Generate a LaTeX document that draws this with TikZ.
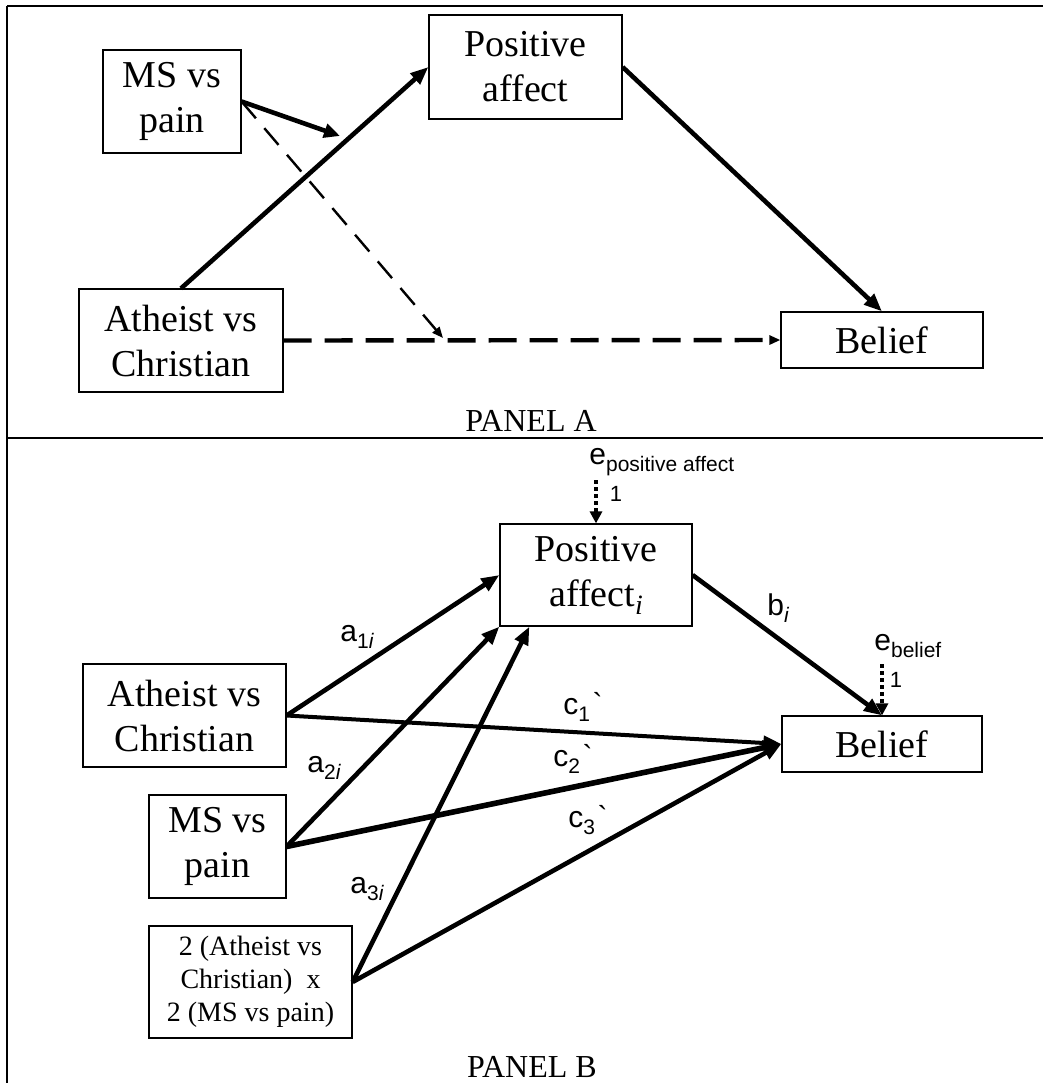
\documentclass[tikz,border=0pt]{standalone}
\usepackage{fontspec}
\setmainfont{Liberation Serif}
\newfontfamily\lblfont{Liberation Sans}
\usetikzlibrary{arrows.meta, positioning}

\newcommand\lsub[1]{\raisebox{-0.4ex}{\fontsize{10.5}{11}\selectfont #1}}
\newcommand\tick{\kern1.2pt\char"60}

\begin{document}
\begin{tikzpicture}[x=0.5pt, y=-0.5pt,
every node/.style={font=\fontsize{19}{22.5}\selectfont, align=center},
box/.style={rectangle, draw, line width=0.6pt, inner sep=0pt},
small/.style={font=\fontsize{14}{16.5}\selectfont},
coef/.style={font=\lblfont\fontsize{15}{17}\selectfont, inner sep=0pt},
one/.style={font=\lblfont\fontsize{11}{13}\selectfont, inner sep=0pt},
title/.style={font=\fontsize{16}{18}\selectfont},
frame/.style={line width=0.7pt},
link/.style={-{Triangle[length=9pt, width=7pt]}, line width=2.3pt},
dashlink/.style={-{Triangle[length=5.5pt, width=4.5pt]}, line width=2.2pt, dash pattern=on 14pt off 6.5pt},
modlink/.style={-{Triangle[length=5.5pt, width=4.5pt]}, line width=1.2pt, dash pattern=on 11pt off 6.5pt},
errlink/.style={-{Triangle[length=6pt, width=6pt]}, line width=2.2pt, dash pattern=on 2pt off 1.5pt}
]
\useasboundingbox (0,0) rectangle (1043,1083);
% Frame
\draw[frame] (7,6) -- (1043,6);
\draw[frame] (7,6) -- (7,1083);
\draw[frame] (7,438) -- (1043,438);

% Panel A nodes
\node[box, minimum width=69pt, minimum height=51.5pt] (msA) at (172,101.5) {MS vs\\pain};
\node[box, minimum width=96.5pt, minimum height=52pt] (posA) at (525.5,67) {Positive\\affect};
\node[box, minimum width=102pt, minimum height=51.5pt] (athA) at (181,340.5) {Atheist vs\\Christian};
\node[box, minimum width=101pt, minimum height=28pt] (belA) at (882,340) {Belief};
\coordinate (modA) at (340,136);
\coordinate (modC) at (443,338);
% Panel A arrows
\draw[link] (athA.north) -- (posA.west);
\draw[link] (posA.east) -- (belA.north);
\draw[link, -{Triangle[length=8pt, width=7pt]}] (msA.east) -- (modA);
\draw[modlink] (msA.east) -- (modC);
\draw[dashlink] (athA.east) -- (belA.west);
\node[title] (titleA) at (531,421) {PANEL A};

% Panel B nodes
\node[box, minimum width=96pt, minimum height=51pt] (posB) at (596,575) {Positive\\affect\raisebox{-0.45ex}{\fontsize{14}{14}\selectfont\itshape i}};
\node[box, minimum width=101.5pt, minimum height=51.5pt] (athB) at (184.5,715.5) {Atheist vs\\Christian};
\node[box, minimum width=68.5pt, minimum height=51.5pt] (msB) at (217.5,846.5) {MS vs\\pain};
\node[box, small, minimum width=101.5pt, minimum height=56pt] (intB) at (250.5,982) {2 (Atheist vs\\Christian)\ \ x\\2 (MS vs pain)};
\node[box, minimum width=100pt, minimum height=28pt] (belB) at (882,744) {Belief};
\node[coef, anchor=west] (ePos) at (589,462) {e\lsub{positive affect}};
\node[coef, anchor=west] (eBel) at (874,646) {e\lsub{belief}};
\coordinate (ePosTail) at (596,480);
\coordinate (eBelTail) at (882,664);
% Panel B arrows
\draw[errlink] (ePosTail) -- (posB.north);
\draw[errlink] (eBelTail) -- (belB.north);
\draw[link] (athB.east) -- (posB.west);
\draw[link] (msB.east) -- (posB.south west);
\draw[link] (intB.east) -- ([xshift=15pt]posB.south west);
\draw[link, line width=2pt] (athB.east) -- (belB.west);
\draw[link, line width=2.8pt] (msB.east) -- (belB.west);
\draw[link] (intB.east) -- (belB.west);
\draw[link] (posB.east) -- (belB.north);
% Labels
\node[one] (onePos) at (616,494) {1};
\node[one] (oneBel) at (896,680) {1};
\node[coef] (la1) at (357,637) {a\lsub{1\itshape i}};
\node[coef] (la2) at (324,768) {a\lsub{2\itshape i}};
\node[coef] (la3) at (367,889) {a\lsub{3\itshape i}};
\node[coef] (lb) at (778,608) {b\lsub{\itshape i}};
\node[coef] (lc1) at (583,707) {c\lsub{1}\tick};
\node[coef] (lc2) at (573,759) {c\lsub{2}\tick};
\node[coef] (lc3) at (588,820) {c\lsub{3}\tick};
\node[title] (titleB) at (532,1067) {PANEL B};
\end{tikzpicture}
\end{document}
